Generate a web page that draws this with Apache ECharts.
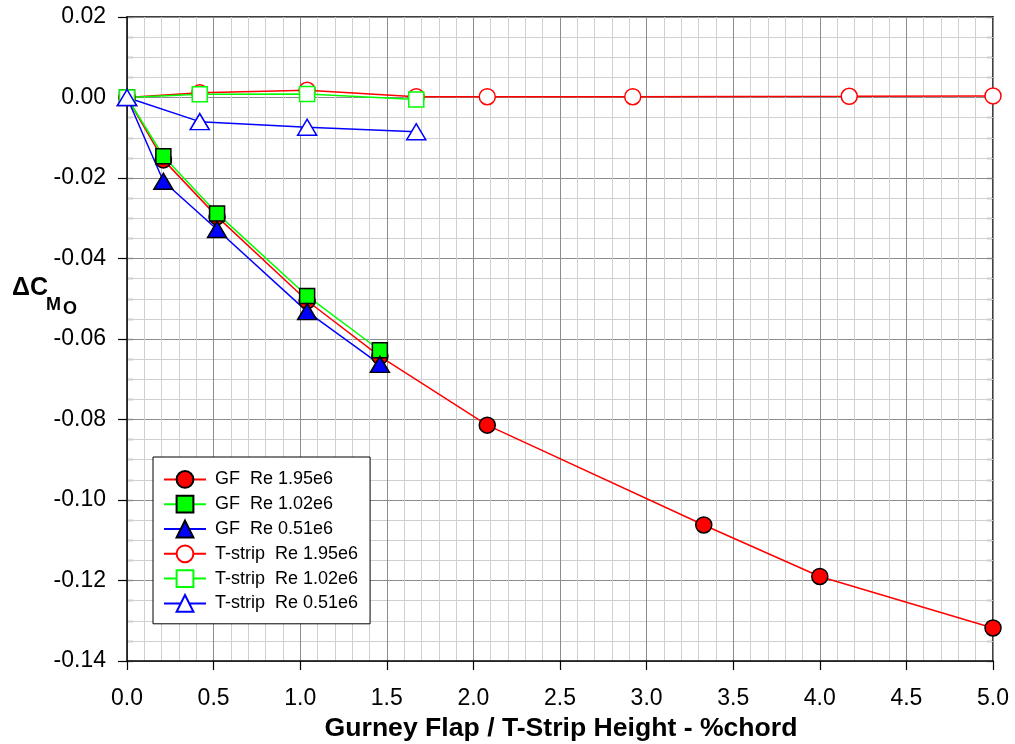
<!DOCTYPE html>
<html>
<head>
<meta charset="utf-8">
<script src="https://cdn.jsdelivr.net/npm/echarts@6/dist/echarts.min.js"></script>
<style>
html,body{margin:0;padding:0;background:#fff;}
#chart{width:1015px;height:744px;}
</style>
</head>
<body>
<div id="chart"></div>
<script>
// ---- data ----
const gfX1 = [0, 0.21, 0.52, 1.04, 1.46, 2.08, 3.33, 4.0, 5.0];
const gfY1 = [0, -0.0155, -0.0296, -0.0505, -0.0643, -0.0814, -0.1062, -0.1190, -0.1318];
const gfX2 = [0, 0.21, 0.52, 1.04, 1.46];
const gfY2 = [0, -0.0146, -0.0288, -0.0493, -0.0628];
const gfX3 = [0, 0.21, 0.52, 1.04, 1.46];
const gfY3 = [0, -0.0208, -0.0328, -0.0532, -0.0663];
const tsX1 = [0, 0.42, 1.04, 1.67, 2.08, 2.92, 4.17, 5.0];
const tsY1 = [0, 0.0012, 0.0018, 0.0002, 0.0002, 0.0002, 0.0003, 0.0004];
const tsX2 = [0, 0.42, 1.04, 1.67];
const tsY2 = [0, 0.0008, 0.0009, -0.0005];
const tsX3 = [0, 0.42, 1.04, 1.67];
const tsY3 = [0, -0.0060, -0.0074, -0.0085];
const seriesNames = ['GF  Re 1.95e6', 'GF  Re 1.02e6', 'GF  Re 0.51e6',
                     'T-strip  Re 1.95e6', 'T-strip  Re 1.02e6', 'T-strip  Re 0.51e6'];
const xTitle = 'Gurney Flap / T-Strip Height - %chord';

const FONT = '"Liberation Sans", Arial, sans-serif';
const RED = '#ff0000', GREEN = '#00ff00', BLUE = '#0000ff';

function pairs(xs, ys) { return xs.map((x, i) => [x, ys[i]]); }

function mkSeries(name, xs, ys, color, symbol, size, filled) {
  return {
    name: name, type: 'line', xAxisIndex: 0, yAxisIndex: 0,
    data: pairs(xs, ys),
    symbol: symbol, symbolSize: size, showAllSymbol: true,
    lineStyle: { color: color, width: 1.5 },
    itemStyle: filled
      ? { color: color, borderColor: '#000', borderWidth: 1.5 }
      : { color: '#fff', borderColor: color, borderWidth: 1.5 },
    emphasis: { disabled: true },
    z: 3
  };
}

const chart = echarts.init(document.getElementById('chart'), null, { renderer: 'canvas' });

const yBase = { type: 'value', min: -0.14, max: 0.02, interval: 0.02 };
const xBase = { type: 'value', min: 0, max: 5, interval: 0.5 };

const option = {
  animation: false,
  backgroundColor: '#fff',
  textStyle: { fontFamily: FONT },
  grid: { left: 127, right: 22, top: 17, bottom: 83, containLabel: false },
  legend: {
    orient: 'vertical', left: 153, top: 457,
    backgroundColor: '#fff', borderColor: '#000', borderWidth: 1, borderRadius: 0,
    padding: [13, 12, 11, 10],
    itemWidth: 42, itemHeight: 21, itemGap: 6,
    textStyle: { fontFamily: FONT, fontSize: 18, color: '#000', padding: [0, 0, 0, 4] },
    data: seriesNames,
    selectedMode: false
  },
  xAxis: [
    Object.assign({}, xBase, {
      position: 'bottom',
      axisLine: { show: true, onZero: false, lineStyle: { color: '#000', width: 1.5 } },
      axisTick: { show: true, inside: false, length: 9, lineStyle: { color: '#000', width: 1.2 } },
      minorTick: { show: false, splitNumber: 5 },
      axisLabel: { show: true, margin: 26, fontSize: 23, color: '#000', fontFamily: FONT,
                   formatter: v => v.toFixed(1) },
      splitLine: { show: true, lineStyle: { color: '#8c8c8c', width: 1 } },
      minorSplitLine: { show: true, lineStyle: { color: '#d0d0d0', width: 1 } },
      z: 2
    }),
    Object.assign({}, xBase, {
      position: 'top',
      axisLine: { show: true, onZero: false, lineStyle: { color: '#000', width: 1.5 } },
      axisTick: { show: false }, axisLabel: { show: false },
      splitLine: { show: false }
    })
  ],
  yAxis: [
    Object.assign({}, yBase, {
      position: 'left',
      axisLine: { show: true, onZero: false, lineStyle: { color: '#000', width: 1.5 } },
      axisTick: { show: true, inside: false, length: 9, lineStyle: { color: '#000', width: 1.2 } },
      minorTick: { show: false, splitNumber: 4 },
      axisLabel: { show: true, margin: 21, fontSize: 23, color: '#000', fontFamily: FONT,
                   formatter: v => v.toFixed(2) },
      splitLine: { show: true, lineStyle: { color: '#8c8c8c', width: 1 } },
      minorSplitLine: { show: true, lineStyle: { color: '#d0d0d0', width: 1 } },
      z: 2
    }),
    Object.assign({}, yBase, {
      position: 'left',
      axisLine: { show: false, onZero: false },
      axisTick: { show: true, inside: true, length: 6, lineStyle: { color: '#000', width: 1.2 } },
      minorTick: { show: true, splitNumber: 4, length: 6, lineStyle: { color: '#000', width: 1.2 } },
      axisLabel: { show: false },
      splitLine: { show: false }
    }),
    Object.assign({}, yBase, {
      position: 'right',
      axisLine: { show: true, onZero: false, lineStyle: { color: '#000', width: 1.5 } },
      axisTick: { show: true, inside: true, length: 6, lineStyle: { color: '#000', width: 1.2 } },
      minorTick: { show: true, splitNumber: 4, length: 6, lineStyle: { color: '#000', width: 1.2 } },
      axisLabel: { show: false },
      splitLine: { show: false }
    })
  ],
  graphic: [
    { type: 'text', left: 12, top: 276, z: 10,
      style: { text: 'ΔC', font: 'bold 25px ' + FONT, fill: '#000' } },
    { type: 'text', left: 46, top: 296, z: 10,
      style: { text: 'M', font: 'bold 18px ' + FONT, fill: '#000' } },
    { type: 'text', left: 63, top: 300, z: 10,
      style: { text: 'O', font: 'bold 18px ' + FONT, fill: '#000' } },
    { type: 'text', x: 561, y: 729, z: 10,
      style: { text: xTitle, font: 'bold 26.6px ' + FONT, fill: '#000',
               textAlign: 'center', textVerticalAlign: 'middle' } }
  ],
  series: [
    mkSeries(seriesNames[0], gfX1, gfY1, RED, 'circle', 16, true),
    mkSeries(seriesNames[1], gfX2, gfY2, GREEN, 'rect', 15, true),
    mkSeries(seriesNames[2], gfX3, gfY3, BLUE, 'triangle', [19, 16], true),
    mkSeries(seriesNames[3], tsX1, tsY1, RED, 'circle', 16, false),
    mkSeries(seriesNames[4], tsX2, tsY2, GREEN, 'rect', 15, false),
    mkSeries(seriesNames[5], tsX3, tsY3, BLUE, 'triangle', [19, 16], false)
  ]
};
chart.setOption(option);
</script>
</body>
</html>
